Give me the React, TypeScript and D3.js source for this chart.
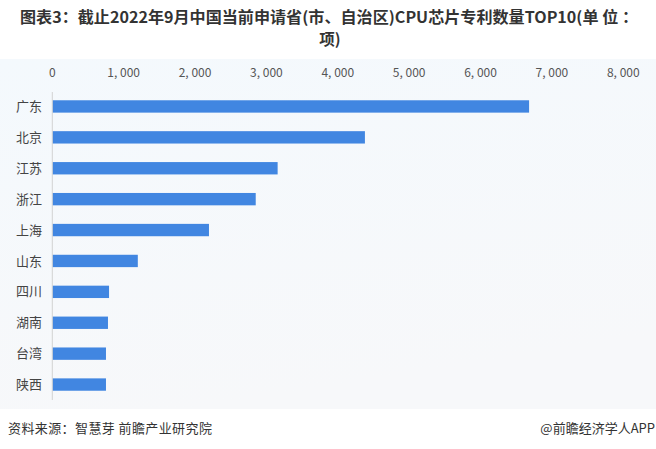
import React from "react";
import * as d3 from "d3";

const categories = ["广东", "北京", "江苏", "浙江", "上海", "山东", "四川", "湖南", "台湾", "陕西"];
const values = [6680, 4380, 3157, 2850, 2195, 1198, 795, 780, 752, 752];
const xTicks = [0, 1000, 2000, 3000, 4000, 5000, 6000, 7000, 8000];
const titleLine1 = "图表3：截止2022年9月中国当前申请省(市、自治区)CPU芯片专利数量TOP10(单 位 ：";
const titleLine2 = "项)";
const sourceText = "资料来源：智慧芽 前瞻产业研究院";
const creditText = "@前瞻经济学人APP";

const W = 656;
const H = 449;
const FONT = "'Noto Sans CJK SC', 'Noto Sans', sans-serif";

export default function App() {
  const x = d3.scaleLinear().domain([0, 8000]).range([52.3, 623.3]);
  const y = d3
    .scaleBand<string>()
    .domain(categories)
    .range([91, 400])
    .paddingInner(0.6)
    .paddingOuter(0.3);
  const fmt = (v: number) => d3.format(",")(v).replace(/,/g, ", ");

  return (
    <svg
      width={W}
      height={H}
      style={{ position: "absolute", left: 0, top: 0, display: "block" }}
    >
      <defs>
        <linearGradient id="bg" x1="0" y1="0" x2="0.3" y2="1">
          <stop offset="0%" stopColor="#f4f9fd" />
          <stop offset="100%" stopColor="#f7f8fa" />
        </linearGradient>
      </defs>
      <rect x={0} y={0} width={W} height={H} fill="#ffffff" />
      <rect x={0} y={59} width={W} height={350} fill="url(#bg)" />
      <text
        x={20}
        y={23}
        fontFamily={FONT}
        fontSize={15.5}
        fontWeight="bold"
        fill="#333333"
        textLength={618}
        lengthAdjust="spacingAndGlyphs"
      >
        {titleLine1}
      </text>
      <text
        x={330}
        y={45}
        fontFamily={FONT}
        fontSize={15.5}
        fontWeight="bold"
        fill="#333333"
        textAnchor="middle"
      >
        {titleLine2}
      </text>
      <g>
        {xTicks.map((t) => (
          <text
            key={t}
            x={x(t)}
            y={77}
            fontFamily={FONT}
            fontSize={12}
            fill="#555555"
            textAnchor="middle"
          >
            {fmt(t)}
          </text>
        ))}
      </g>
      <g>
        {categories.map((c, i) => (
          <rect
            key={c}
            x={x(0)}
            y={y(c)!}
            width={x(values[i]) - x(0)}
            height={y.bandwidth()}
            fill="#4186e1"
          />
        ))}
      </g>
      <line x1={52.3} x2={52.3} y1={92} y2={400} stroke="#d3d3d3" strokeWidth={1} />
      <g>
        {categories.map((c) => (
          <text
            key={c}
            x={42}
            y={y(c)! + y.bandwidth() / 2}
            dy="0.35em"
            fontFamily={FONT}
            fontSize={13}
            fill="#444444"
            textAnchor="end"
          >
            {c}
          </text>
        ))}
      </g>
      <text x={8} y={433} fontFamily={FONT} fontSize={13} fill="#333333" letterSpacing={0.4}>
        {sourceText}
      </text>
      <text
        x={655}
        y={433}
        fontFamily={FONT}
        fontSize={13}
        fill="#333333"
        textAnchor="end"
      >
        {creditText}
      </text>
    </svg>
  );
}
